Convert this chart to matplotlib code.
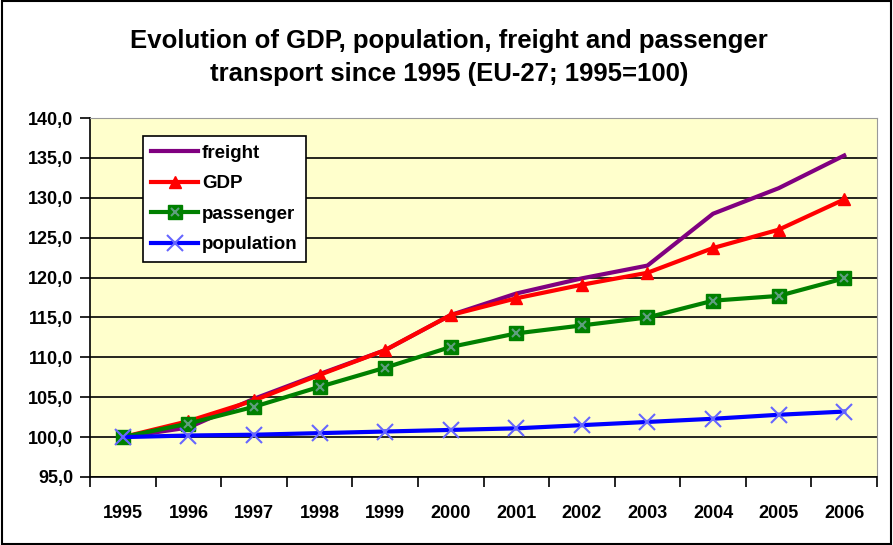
import matplotlib.pyplot as plt
from matplotlib.patches import Rectangle
from matplotlib.legend_handler import HandlerTuple

plt.rcParams['font.family'] = ['Liberation Sans', 'DejaVu Sans']

years = ['1995', '1996', '1997', '1998', '1999', '2000', '2001', '2002', '2003', '2004', '2005', '2006']
freight = [100.0, 101.2, 104.8, 107.9, 110.9, 115.3, 118.0, 119.9, 121.5, 128.0, 131.2, 135.3]
gdp = [100.0, 102.0, 104.6, 107.8, 110.9, 115.3, 117.4, 119.1, 120.6, 123.7, 126.0, 129.8]
passenger = [100.0, 101.7, 103.8, 106.3, 108.7, 111.3, 113.0, 114.0, 115.0, 117.1, 117.7, 119.9]
population = [100.0, 100.2, 100.3, 100.5, 100.7, 100.9, 101.1, 101.5, 101.9, 102.3, 102.8, 103.2]
yticks = [95, 100, 105, 110, 115, 120, 125, 130, 135, 140]

fig = plt.figure(figsize=(8.93, 5.45), dpi=100)
fig.patches.append(Rectangle((0.002, 0.002), 0.996, 0.996, transform=fig.transFigure,
                             fill=False, edgecolor='black', linewidth=1.5))

ax = fig.add_axes([90 / 893, 68 / 545, 787 / 893, 359 / 545])
ax.set_facecolor('#FFFFCC')
x = list(range(len(years)))

l1, = ax.plot(x, freight, color='#800080', linewidth=3, label='freight')
l2, = ax.plot(x, gdp, color='#FF0000', linewidth=3, marker='^', markersize=9, label='GDP')
l3, = ax.plot(x, passenger, color='#008000', linewidth=3, marker='s', markersize=10, label='passenger')
l3x, = ax.plot(x, passenger, linestyle='none', marker='x', color='#5f9f7f', markersize=6, markeredgewidth=1.5)
l4, = ax.plot(x, population, color='#0000FF', linewidth=3, marker='x', markersize=11,
              markeredgecolor='#6666FF', markeredgewidth=1.5, label='population')

ax.set_ylim(95, 140)
ax.set_xlim(-0.5, len(years) - 0.5)
ax.set_yticks(yticks)
ax.set_yticklabels([f'{v:.1f}'.replace('.', ',') for v in yticks], fontsize=13, fontweight='bold')
ax.yaxis.grid(True, color='black', linewidth=1.2)
ax.set_axisbelow(True)
ax.tick_params(axis='y', direction='out', length=7, width=1.2, pad=5)

ax.set_xticks(x)
ax.set_xticklabels(years, fontsize=13, fontweight='bold')
ax.set_xticks([i - 0.5 for i in range(len(years) + 1)], minor=True)
ax.tick_params(axis='x', which='major', length=0, pad=20)
ax.tick_params(axis='x', which='minor', direction='out', length=7, width=1.2)

for side in ['top', 'right']:
    ax.spines[side].set_color('#999999')
for side in ['left', 'bottom']:
    ax.spines[side].set_color('black')
    ax.spines[side].set_linewidth(1.2)

leg = ax.legend([l1, l2, (l3, l3x), l4], ['freight', 'GDP', 'passenger', 'population'],
                handler_map={tuple: HandlerTuple(ndivide=1)},
                loc='upper left', bbox_to_anchor=(0.067, 0.95), fancybox=False, framealpha=1,
                edgecolor='black', prop={'size': 13.5, 'weight': 'bold'},
                handlelength=2.5, handletextpad=0.2, labelspacing=0.72, borderpad=0.45,
                borderaxespad=0)
leg.get_frame().set_linewidth(1.2)

fig.text(0.503, 0.924, 'Evolution of GDP, population, freight and passenger',
         ha='center', va='center', fontsize=18.5, fontweight='bold')
fig.text(0.503, 0.864, 'transport since 1995 (EU-27; 1995=100)',
         ha='center', va='center', fontsize=18.5, fontweight='bold')

fig.savefig('out.png', dpi=100)
